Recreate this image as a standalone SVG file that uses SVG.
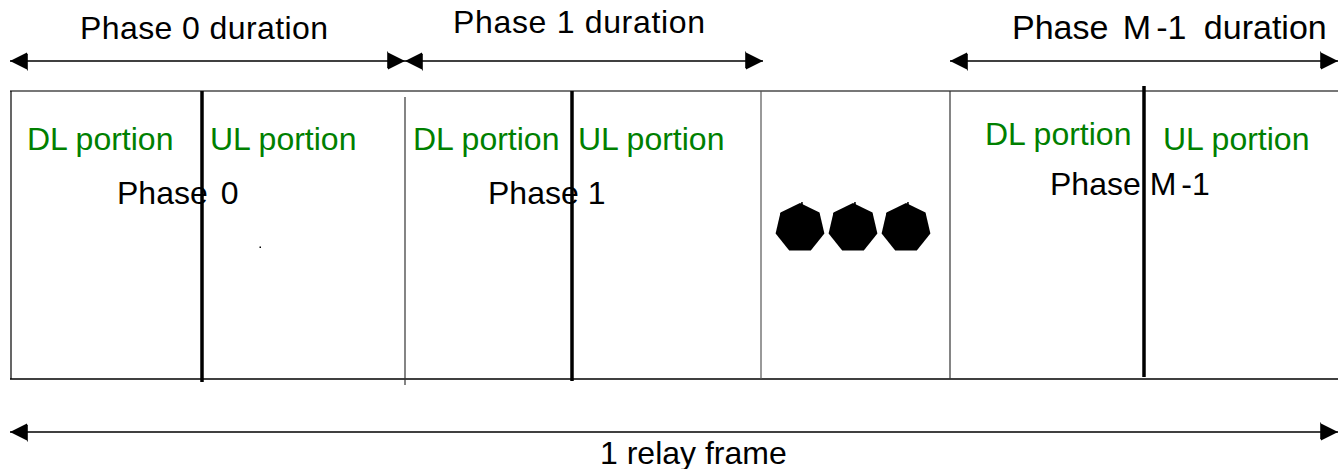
<svg xmlns="http://www.w3.org/2000/svg" xmlns:xlink="http://www.w3.org/1999/xlink" width="1338" height="469" viewBox="0 0 1338 469">
<style>
text{font-family:"Liberation Sans",Arial,sans-serif;font-size:32px;}
.lbl{fill:#000;}
.grn{fill:#008000;}
.arr{stroke:#000;stroke-width:1.5;fill:none;}
.thick{stroke:#000;stroke-width:3.5;}
.thin{stroke:#333;stroke-width:1.2;}
</style>
<defs>
<marker id="ah" markerUnits="userSpaceOnUse" markerWidth="20" markerHeight="20" viewBox="0 0 20 20" refX="18" refY="10" orient="auto-start-reverse">
<polygon points="1,1.5 1,18.5 18,10" fill="#000"/>
<polyline points="0.5,0.5 0.5,17 3,16" fill="none" stroke="#000" stroke-width="0.8"/>
</marker>
<polygon id="hept" points="0,-25 19.5,-15.6 24.4,5.6 10.8,22.5 -10.8,22.5 -24.4,5.6 -19.5,-15.6" fill="#000"/>
<polyline id="spike" points="-20,-14 1,-22 2,-26 3,-18 20,-13" fill="none" stroke="#000" stroke-width="1"/>
</defs>
<rect width="1338" height="469" fill="#fff"/>
<g id="frame">
<line x1="10" y1="91" x2="1338" y2="91" stroke="#777" stroke-width="1.8"/>
<line x1="10" y1="379" x2="1338" y2="379" stroke="#000" stroke-width="1.5"/>
<line x1="11" y1="91" x2="11" y2="379" stroke="#000" stroke-width="1.2"/>
<line class="thin" x1="405" y1="97" x2="405" y2="385"/>
<line x1="761" y1="91" x2="761" y2="379" stroke="#555" stroke-width="1.2"/>
<line class="thin" x1="950" y1="91" x2="950" y2="379"/>
<line class="thick" x1="202" y1="91" x2="202" y2="382"/>
<line class="thick" x1="572" y1="91" x2="572" y2="381"/>
<line class="thick" x1="1144" y1="86" x2="1144" y2="377"/>
<rect x="259.5" y="246.5" width="1.5" height="1.5" fill="#000"/>
</g>
<g id="connectors">
<line class="arr" x1="10" y1="61" x2="405" y2="61" marker-start="url(#ah)" marker-end="url(#ah)"/>
<line class="arr" x1="405" y1="61" x2="763" y2="61" marker-start="url(#ah)" marker-end="url(#ah)"/>
<line class="arr" x1="950" y1="61" x2="1338" y2="61" marker-start="url(#ah)" marker-end="url(#ah)"/>
<line class="arr" x1="10" y1="432" x2="1338" y2="432" marker-start="url(#ah)" marker-end="url(#ah)"/>
</g>
<g id="phase0">
<text class="lbl" x="80" y="39" textLength="248" lengthAdjust="spacing">Phase 0 duration</text>
<text class="grn" x="27" y="150">DL portion</text>
<text class="grn" x="210" y="150">UL portion</text>
<text class="lbl" x="117" y="204"><tspan>Phase</tspan><tspan dx="4"> 0</tspan></text>
</g>
<g id="phase1">
<text class="lbl" x="453" y="33" textLength="252" lengthAdjust="spacing">Phase 1 duration</text>
<text class="grn" x="413" y="150">DL portion</text>
<text class="grn" x="578" y="150">UL portion</text>
<text class="lbl" x="488" y="204">Phase 1</text>
</g>
<g id="ellipsis">
<use xlink:href="#hept" x="800" y="228"/>
<use xlink:href="#hept" x="853" y="228"/>
<use xlink:href="#hept" x="906" y="228"/>
<use xlink:href="#spike" x="800" y="228"/>
<use xlink:href="#spike" x="853" y="228"/>
<use xlink:href="#spike" x="906" y="228"/>
</g>
<g id="phaseM1">
<text class="lbl" x="1012" y="39" style="font-size:34px"><tspan>Phase</tspan><tspan dx="5"> M</tspan><tspan dx="5">-1</tspan><tspan dx="8"> duration</tspan></text>
<text class="grn" x="985" y="145">DL portion</text>
<text class="grn" x="1163" y="150">UL portion</text>
<text class="lbl" x="1050" y="195"><tspan>Phase M</tspan><tspan dx="5">-1</tspan></text>
</g>
<g id="relayframe">
<text class="lbl" x="600" y="464">1 relay frame</text>
</g>
</svg>
